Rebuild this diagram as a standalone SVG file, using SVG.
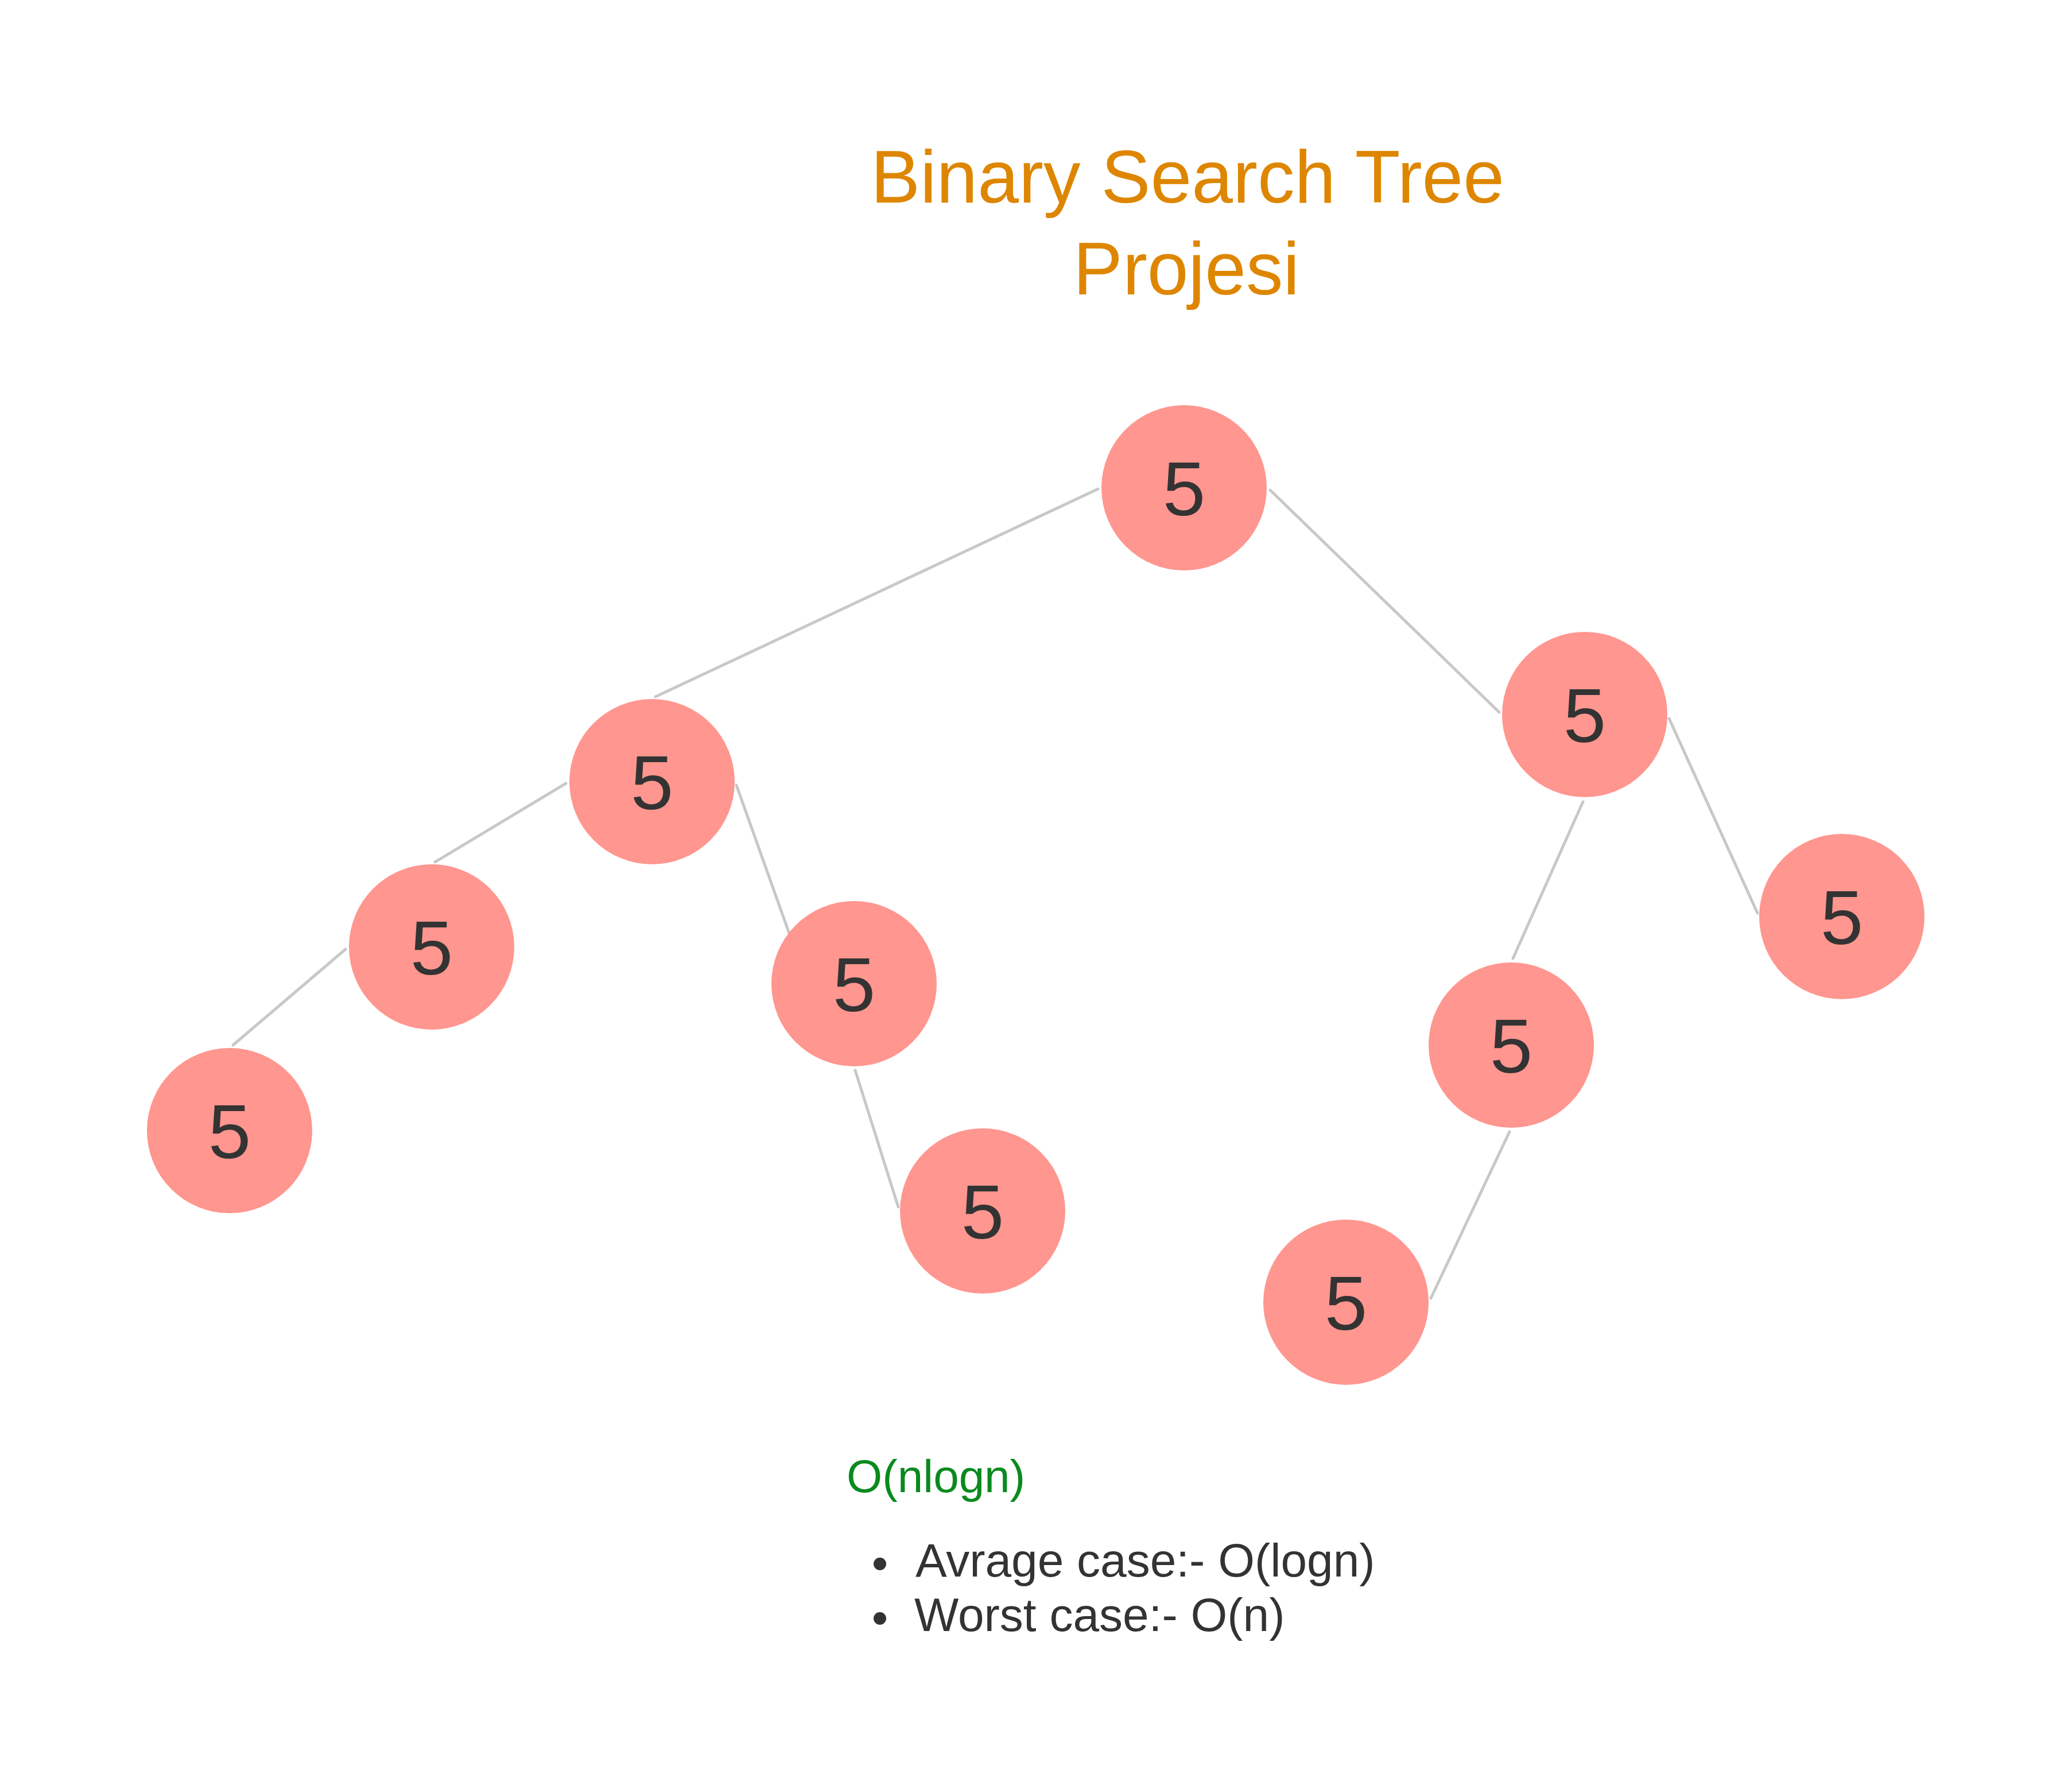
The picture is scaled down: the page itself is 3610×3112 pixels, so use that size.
<svg xmlns="http://www.w3.org/2000/svg" width="3610" height="3112" viewBox="0 0 3610 3112">
  <style>
    .node circle { fill: #ff968f; }
    .node text { font-family: "Liberation Sans", Arial, sans-serif; font-size: 134px; fill: #333333; text-anchor: middle; }
    .edges line { stroke: #c8c8c8; stroke-width: 5; stroke-linecap: round; }
    .title { font-family: "Liberation Sans", Arial, sans-serif; font-size: 129px; fill: #de8600; text-anchor: middle; }
    .green { font-family: "Liberation Sans", Arial, sans-serif; font-size: 80px; fill: #0a8a1e; }
    .body { font-family: "Liberation Sans", Arial, sans-serif; font-size: 82px; fill: #333333; }
  </style>
  <rect width="3610" height="3112" fill="#ffffff"/>

  <g id="title">
    <text class="title" x="2069" y="353">Binary Search Tree</text>
    <text class="title" x="2067" y="513">Projesi</text>
  </g>

  <g id="connectors" class="edges">
    <line x1="1913" y1="852" x2="1142" y2="1214"/>
    <line x1="2213" y1="854" x2="2612" y2="1241"/>
    <line x1="986" y1="1365" x2="758" y2="1502"/>
    <line x1="1283" y1="1368" x2="1382" y2="1646"/>
    <line x1="602" y1="1654" x2="406" y2="1821"/>
    <line x1="1490" y1="1865" x2="1565" y2="2103"/>
    <line x1="2758" y1="1397" x2="2636" y2="1670"/>
    <line x1="2908" y1="1252" x2="3062" y2="1591"/>
    <line x1="2630" y1="1972" x2="2493" y2="2262"/>
  </g>

  <g id="node1" class="node"><circle cx="2063" cy="850" r="144"/><text x="2063" y="898">5</text></g>
  <g id="node2" class="node"><circle cx="1136" cy="1362" r="144"/><text x="1136" y="1410">5</text></g>
  <g id="node3" class="node"><circle cx="2761" cy="1245" r="144"/><text x="2761" y="1293">5</text></g>
  <g id="node4" class="node"><circle cx="752" cy="1650" r="144"/><text x="752" y="1698">5</text></g>
  <g id="node5" class="node"><circle cx="1488" cy="1714" r="144"/><text x="1488" y="1762">5</text></g>
  <g id="node6" class="node"><circle cx="400" cy="1970" r="144"/><text x="400" y="2018">5</text></g>
  <g id="node7" class="node"><circle cx="1712" cy="2110" r="144"/><text x="1712" y="2158">5</text></g>
  <g id="node8" class="node"><circle cx="3209" cy="1597" r="144"/><text x="3209" y="1645">5</text></g>
  <g id="node9" class="node"><circle cx="2633" cy="1821" r="144"/><text x="2633" y="1869">5</text></g>
  <g id="node10" class="node"><circle cx="2345" cy="2269" r="144"/><text x="2345" y="2317">5</text></g>

  <g id="complexity">
    <text class="green" x="1475" y="2600">O(nlogn)</text>
    <circle cx="1533" cy="2725" r="11" fill="#333333"/>
    <text class="body" x="1595" y="2747">Avrage case:- O(logn)</text>
    <circle cx="1533" cy="2820" r="11" fill="#333333"/>
    <text class="body" x="1593" y="2842">Worst case:- O(n)</text>
  </g>
</svg>
